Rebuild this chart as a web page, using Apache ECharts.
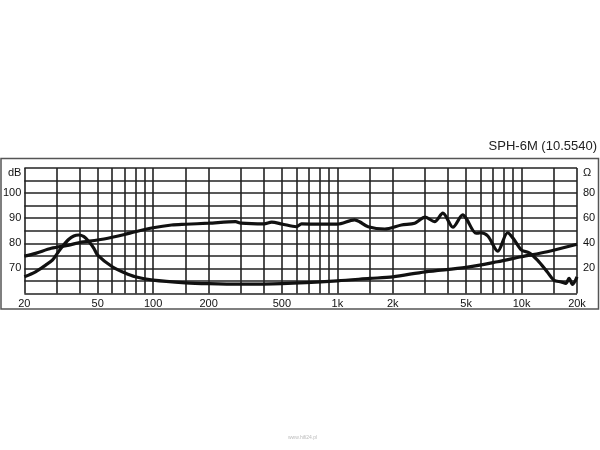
<!DOCTYPE html>
<html>
<head>
<meta charset="utf-8">
<script src="https://cdn.jsdelivr.net/npm/echarts@6/dist/echarts.min.js"></script>
<style>
html,body{margin:0;padding:0;background:#fff;}
#c{width:600px;height:450px;}
</style>
</head>
<body>
<div id="c"></div>
<script>
// Frequency response (dB) of SPH-6M
const splFreq = [20, 23, 28, 35, 40, 50, 60, 70, 80, 100, 126, 150, 200, 280, 300, 400, 440, 500, 600, 640, 800, 1000, 1240, 1320, 1470, 1810, 2230, 2630, 3000, 3370, 3740, 4240, 4800, 5000, 5670, 6000, 6560, 7430, 8400, 9000, 10000, 11000, 12200, 13800, 15000, 16400, 17400, 18100, 18900, 20000];
const splDb = [74.9, 76, 78, 79.3, 80.3, 81.3, 82.4, 83.5, 84.6, 86.2, 87.3, 87.6, 88, 88.6, 88, 87.7, 88.4, 87.7, 86.6, 87.7, 87.6, 87.6, 89.3, 88.6, 86.6, 85.7, 87.3, 88, 90.4, 88.6, 92, 86.4, 91.3, 90, 84, 84.2, 82.9, 76.9, 84.2, 82, 77.3, 76.2, 73.3, 68.6, 65.3, 64.6, 64, 66, 63.6, 66.6];
// Impedance (Ohm)
const impFreq = [20, 23, 26.1, 28.4, 30.2, 32.1, 34.9, 37.1, 39.5, 42.1, 44.9, 47.7, 50, 60, 70, 80, 100, 150, 200, 300, 500, 1000, 1500, 2000, 3000, 5000, 7400, 10000, 13800, 20000];
const impOhm = [13.3, 17.3, 22.6, 26.6, 32, 37.3, 43.2, 45.8, 46.6, 45.3, 41.3, 36, 30.6, 21.3, 16.5, 13.3, 10.6, 8.5, 7.8, 7.4, 7.9, 10.1, 12, 13.3, 17.3, 20.8, 25.3, 29.3, 33.3, 39.2];
// Grid and labels
const gridFreqs = [20, 30, 40, 50, 60, 70, 80, 90, 100, 150, 200, 300, 400, 500, 600, 700, 800, 900, 1000, 1500, 2000, 3000, 4000, 5000, 6000, 7000, 8000, 9000, 10000, 15000, 20000];
const labelFreqs = [20, 50, 100, 200, 500, 1000, 2000, 5000, 10000, 20000];
const title = 'SPH-6M (10.5540)';

const chart = echarts.init(document.getElementById('c'), null, {renderer: 'canvas'});
const font = 'Liberation Sans, Arial, sans-serif';
const gridColor = '#222';
const textColor = '#111';

chart.setOption({
  animation: false,
  backgroundColor: '#fff',
  title: {
    text: title, right: -2, top: 135,
    textStyle: {fontFamily: font, fontSize: 13, fontWeight: 'normal', color: '#222'}
  },
  graphic: [
    {type: 'rect', shape: {x: 1, y: 158.5, width: 597.5, height: 150.5},
     style: {fill: 'none', stroke: '#555', lineWidth: 1.5}, silent: true},
    {type: 'text', left: 288, top: 435,
     style: {text: 'www.hifi24.pl', fontSize: 5, fill: '#bbb', fontFamily: font}, silent: true}
  ],
  grid: {left: 22, right: 23, top: 168, bottom: 156.5, containLabel: false},
  xAxis: {
    type: 'log', logBase: 10, min: 20, max: 20000,
    axisLine: {show: false},
    axisTick: {show: false, customValues: gridFreqs},
    splitLine: {show: true, lineStyle: {color: gridColor, width: 1.6}},
    axisLabel: {
      customValues: labelFreqs,
      margin: 5,
      fontFamily: font, fontSize: 11, color: textColor,
      formatter: v => v >= 1000 ? (v / 1000) + 'k' : String(v)
    }
  },
  yAxis: [
    {
      type: 'value', min: 60, max: 110, interval: 5, position: 'left',
      axisLine: {show: false}, axisTick: {show: false},
      splitLine: {show: true, lineStyle: {color: gridColor, width: 1.6}},
      axisLabel: {
        margin: 3, fontFamily: font, fontSize: 11, color: textColor,
        formatter: v => v === 110 ? '{u|dB}' : (v % 10 === 0 && v > 60 ? String(v) : ''),
        rich: {u: {fontFamily: font, fontSize: 11, color: textColor, padding: [10, 0, 0, 0]}}
      }
    },
    {
      type: 'value', min: 0, max: 100, interval: 10, position: 'right',
      axisLine: {show: false}, axisTick: {show: false}, splitLine: {show: false},
      axisLabel: {
        margin: 6, fontFamily: font, fontSize: 11, color: textColor,
        formatter: v => v === 100 ? '{u|Ω}' : (v % 20 === 0 && v > 0 ? String(v) : ''),
        rich: {u: {fontFamily: font, fontSize: 11, color: textColor, padding: [10, 0, 0, 0]}}
      }
    }
  ],
  series: [
    {
      type: 'line', name: 'SPL', yAxisIndex: 0, showSymbol: false, smooth: 0.3,
      lineStyle: {color: '#111', width: 3.2},
      data: splFreq.map((f, i) => [f, splDb[i]])
    },
    {
      type: 'line', name: 'Impedance', yAxisIndex: 1, showSymbol: false, smooth: 0.3,
      lineStyle: {color: '#111', width: 3.2},
      data: impFreq.map((f, i) => [f, impOhm[i]])
    }
  ]
});
</script>
</body>
</html>
